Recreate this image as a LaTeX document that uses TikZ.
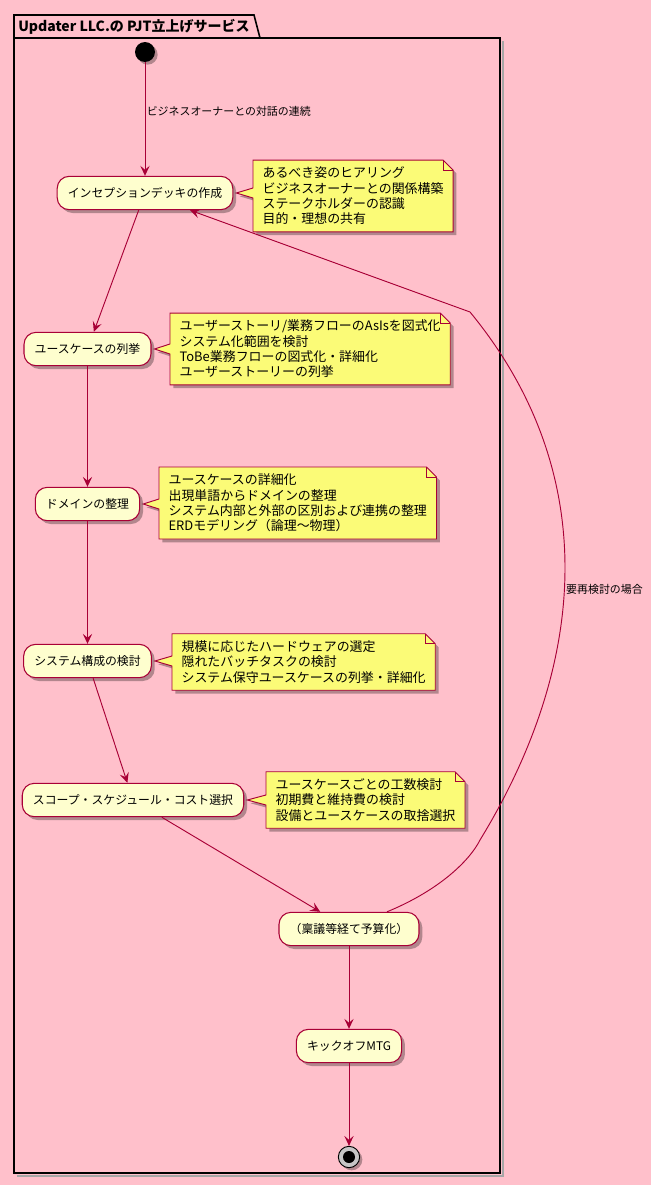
\documentclass[tikz,border=0pt]{standalone}
\usepackage{fontspec}
\setmainfont{Noto Sans CJK JP}
\usetikzlibrary{arrows.meta,shadows,calc,backgrounds}

\definecolor{umlred}{HTML}{A80036}
\definecolor{actfill}{HTML}{FEFECE}
\definecolor{notefill}{HTML}{FBFB77}
\definecolor{bgpink}{HTML}{FFC0CB}

\tikzset{
  activity/.style={draw=umlred, fill=actfill, line width=0.8pt, rounded corners=9pt,
    minimum height=25pt, inner xsep=8pt, font=\fontsize{8.9}{10}\selectfont,
    drop shadow={shadow xshift=2.5pt, shadow yshift=-2.5pt, fill=black, opacity=0.3}},
  umlnote/.style={anchor=west, align=left, inner xsep=7pt, inner ysep=5pt,
    font=\fontsize{9.7}{11.5}\selectfont},
  noteline/.style={draw=umlred, fill=notefill, line width=0.7pt,
    drop shadow={shadow xshift=2.5pt, shadow yshift=-2.5pt, fill=black, opacity=0.3}},
  flow/.style={draw=umlred, line width=0.7pt, -{Stealth[length=7.5pt, width=7pt, inset=3pt]}},
  flowlabel/.style={font=\fontsize{8.2}{10}\selectfont, inner sep=1pt},
  startdot/.style={circle, fill=black, minimum size=15pt, inner sep=0pt,
    drop shadow={shadow xshift=2pt, shadow yshift=-2pt, fill=black, opacity=0.3}},
  enddot/.style={circle, draw=black, fill=gray!45, line width=0.7pt, minimum size=16pt, inner sep=0pt,
    drop shadow={shadow xshift=2pt, shadow yshift=-2pt, fill=black, opacity=0.3}},
}

% note outline with callout wedge towards its activity
\newcommand{\notecallout}[2]{%
  \begin{scope}[on background layer]
    \path[noteline] (#1.north west) -- ($(#1.north east)+(-10,0)$) -- ($(#1.north east)+(0,10)$)
      -- (#1.south east) -- (#1.south west) -- ($(#1.west |- #2.east)+(0,5)$)
      -- ($(#2.east)+(3,0)$) -- ($(#1.west |- #2.east)+(0,-5)$) -- cycle;
    \draw[umlred, line width=0.7pt] ($(#1.north east)+(-10,0)$) -- ($(#1.north east)+(-10,10)$)
      -- ($(#1.north east)+(0,10)$);
  \end{scope}%
}

\begin{document}
\begin{tikzpicture}[x=0.75pt, y=-0.75pt]
  \begin{scope}[on background layer]
    \fill[bgpink] (0,0) rectangle (651,1185);
  \end{scope}
  \useasboundingbox (0,0) rectangle (651,1185);

  % package frame
  \draw[gray!70, line width=2pt] (503,41) -- (503,1176) -- (17,1176);
  \draw[black, line width=1.2pt] (14,38) -- (14,15) -- (254,15) -- (260,38);
  \draw[black, line width=1.2pt] (14,38) rectangle (500,1173);
  \node[anchor=west, inner sep=0pt, font=\fontsize{10.5}{12}\selectfont\bfseries] (title) at (18,27)
    {Updater LLC.の PJT立上げサービス};

  % activities
  \node[startdot] (start) at (145,52) {};
  \node[activity] (inception) at (145,193) {インセプションデッキの作成};
  \node[activity] (usecase) at (87.5,349) {ユースケースの列挙};
  \node[activity] (domain) at (87.5,504) {ドメインの整理};
  \node[activity] (system) at (87.5,661) {システム構成の検討};
  \node[activity] (scope) at (133,800) {スコープ・スケジュール・コスト選択};
  \node[activity] (budget) at (349,929) {（稟議等経て予算化）};
  \node[activity] (kickoff) at (349,1046) {キックオフMTG};
  \node[enddot] (finish) at (349,1157) {};
  \fill[black] (finish) circle (4.5pt);

  % notes
  \node[umlnote] (noteinception) at (253,196) {あるべき姿のヒアリング\\ビジネスオーナーとの関係構築\\ステークホルダーの認識\\目的・理想の共有};
  \node[umlnote] (noteusecase) at (170,349) {ユーザーストーリ/業務フローのAsIsを図式化\\システム化範囲を検討\\ToBe業務フローの図式化・詳細化\\ユーザーストーリーの列挙};
  \node[umlnote] (notedomain) at (159,503) {ユースケースの詳細化\\出現単語からドメインの整理\\システム内部と外部の区別および連携の整理\\ERDモデリング（論理〜物理）};
  \node[umlnote] (notesystem) at (172,662) {規模に応じたハードウェアの選定\\隠れたバッチタスクの検討\\システム保守ユースケースの列挙・詳細化};
  \node[umlnote] (notescope) at (266,800) {ユースケースごとの工数検討\\初期費と維持費の検討\\設備とユースケースの取捨選択};
  \notecallout{noteinception}{inception}
  \notecallout{noteusecase}{usecase}
  \notecallout{notedomain}{domain}
  \notecallout{notesystem}{system}
  \notecallout{notescope}{scope}

  % flows
  \draw[flow] (start) -- node[flowlabel, pos=0.43, anchor=west] {ビジネスオーナーとの対話の連続} (inception);
  \draw[flow] (inception) -- (usecase);
  \draw[flow] (usecase) -- (domain);
  \draw[flow] (domain) -- (system);
  \draw[flow] (system) -- (scope);
  \draw[flow] (scope) -- (budget);
  \draw[flow] (budget) -- (kickoff);
  \draw[flow] (kickoff) -- (finish);
  \draw[flow] ($(budget.north)+(38,0)$) .. controls (440,890) and (470,860) .. (480,840)
    .. controls (590,660) and (600,470) .. node[flowlabel, pos=0.46, anchor=west] {要再検討の場合} (470,312)
    -- ($(inception.south)+(45,0)$);
\end{tikzpicture}
\end{document}
